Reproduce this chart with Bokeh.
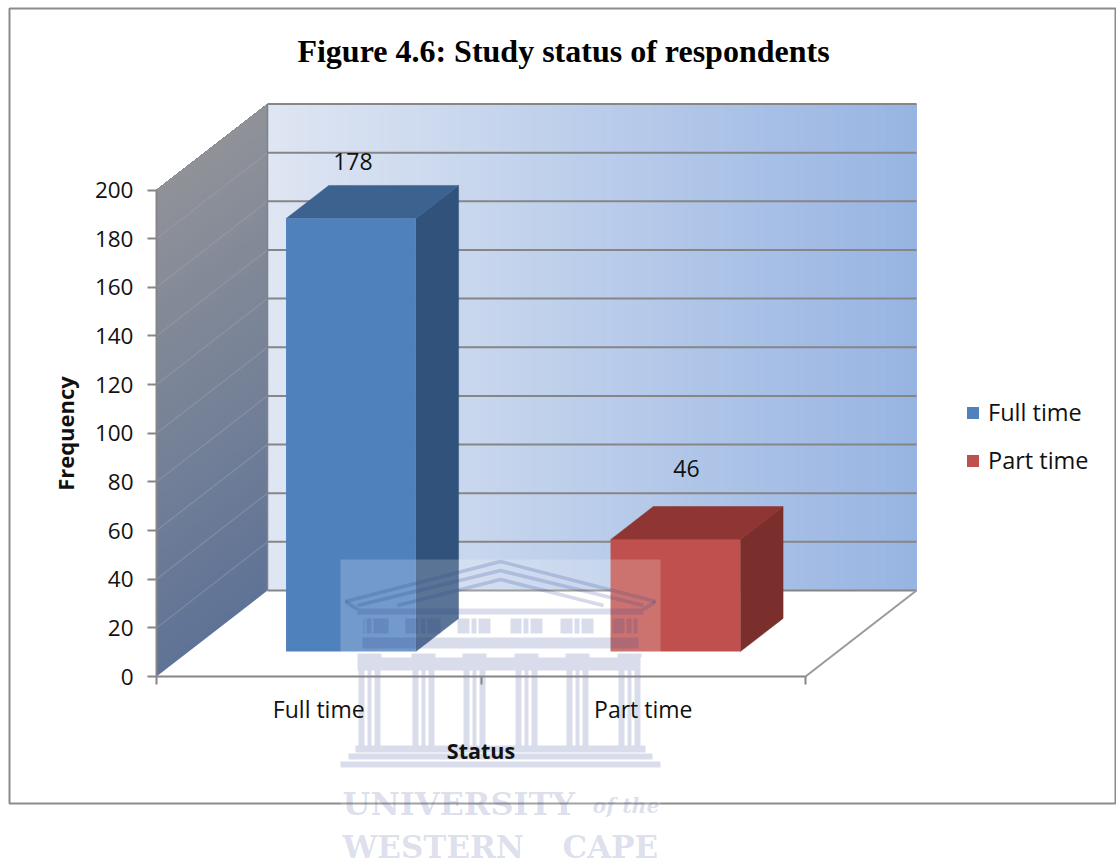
from bokeh.embed import file_html
from bokeh.resources import INLINE
from bokeh.plotting import figure
from bokeh.core.properties import value
from bokeh.models import FixedTicker, Legend, LegendItem, LinearAxis, Range1d

# Chart content
title_text = "Figure 4.6: Study status of respondents"
categories = ["Full time", "Part time"]
frequencies = [178, 46]
y_ticks = [0, 20, 40, 60, 80, 100, 120, 140, 160, 180, 200]
y_title = "Frequency"
x_title = "Status"

# Pseudo-3D styling
WIDTH, HEIGHT = 1116, 866
ORIGIN_X, ORIGIN_Y = 156, 676        # where the front axes meet, in page pixels
PX_PER_CAT, PX_PER_FREQ = 324.5, 2.4325
DEPTH_X = 111 / PX_PER_CAT           # shift of the back wall, in category units
DEPTH_Y = 86 / PX_PER_FREQ           # shift of the back wall, in frequency units
BAR_WIDTH = 0.4
BAR_Z0, BAR_Z1 = 0.29, 0.675
GRID = "#868686"
BAR_COLORS = {"front": ["#4f81bd", "#c0504d"], "side": ["#31527b", "#7a2f2c"], "top": ["#3c6390", "#8f3533"]}
LABEL_SHIFT = [(0.006, 23.4), (0.034, 29.2)]   # data label offset from the bar's front top edge
FONT = "Open Sans"
INK = "#111111"
MARK = "#2f3f8f"


def proj(x, y, z):
    """Project a (category, frequency, depth) point onto the picture plane."""
    return x + z * DEPTH_X, y + z * DEPTH_Y


def dx(px):
    return (px - ORIGIN_X) / PX_PER_CAT


def dy(py):
    return (ORIGIN_Y - py) / PX_PER_FREQ


def mix(a, b, t):
    ca = [int(a[i:i + 2], 16) for i in (1, 3, 5)]
    cb = [int(b[i:i + 2], 16) for i in (1, 3, 5)]
    return "#%02x%02x%02x" % tuple(round(u + (v - u) * t) for u, v in zip(ca, cb))


p = figure(width=WIDTH, height=HEIGHT, output_backend="svg", toolbar_location=None,
           x_range=Range1d(dx(0), dx(WIDTH)), y_range=Range1d(dy(HEIGHT), dy(0)),
           x_axis_location=None, y_axis_location=None, min_border=0)
p.grid.visible = False
p.outline_line_color = None
p.background_fill_color = "white"

# Chart frame
p.quad(left=[dx(9)], right=[dx(1115)], top=[dy(8)], bottom=[dy(803)],
       fill_color=None, line_color="#8b8b8b", line_width=2)

# Back wall: horizontal colour ramp, each strip painted over the rest of the wall
y_top = y_ticks[-1]
n_strips = 64
x0, y0 = proj(0, 0, 1)
x1 = proj(2, 0, 1)[0]
y1 = proj(0, y_top, 1)[1]
edges = [x0 + (x1 - x0) * i / n_strips for i in range(n_strips)]
strip_colors = [mix("#dfe6f3", "#97b4e2", (i + 0.5) / n_strips) for i in range(n_strips)]
p.quad(left=edges, right=x1, top=y1, bottom=y0, fill_color=strip_colors, line_color=None)

# Side wall: vertical colour ramp sheared along the depth direction, painted upward
n_bands = 60
xs, ys, band_colors = [], [], []
for i in range(n_bands):
    lo = y_top * i / n_bands
    a, b = proj(0, lo, 0), proj(0, lo, 1)
    c, d = proj(0, y_top, 1), proj(0, y_top, 0)
    xs.append([a[0], b[0], c[0], d[0]])
    ys.append([a[1], b[1], c[1], d[1]])
    band_colors.append(mix("#5f7396", "#909298", (i + 0.5) / n_bands))
p.patches(xs, ys, fill_color=band_colors, line_color=None)

# Gridlines on both walls, and the floor outline
for tick in y_ticks:
    bx, by = proj(0, tick, 1)
    ex = proj(2, tick, 1)[0]
    p.line([bx, ex], [by, by], line_color=GRID, line_width=2)
    if tick not in (0, y_top):
        fx, fy = proj(0, tick, 0)
        p.line([fx, bx], [fy, by], line_color="#a0a6b2", line_width=1.2, line_alpha=0.45)
fx, fy = proj(2, 0, 0)
bx, by = proj(2, 0, 1)
p.line([fx, bx], [fy, by], line_color="#9a9a9a", line_width=2)
p.line([x0, x0], [y0, y1], line_color="#7f8288", line_width=1.5)

# Bars: side and top faces, then the front face that carries the legend entry
legend_items = []
for i, (name, freq) in enumerate(zip(categories, frequencies)):
    left, right = i + 0.5 - BAR_WIDTH / 2, i + 0.5 + BAR_WIDTH / 2
    side = [proj(right, 0, BAR_Z0), proj(right, 0, BAR_Z1), proj(right, freq, BAR_Z1), proj(right, freq, BAR_Z0)]
    top = [proj(left, freq, BAR_Z0), proj(right, freq, BAR_Z0), proj(right, freq, BAR_Z1), proj(left, freq, BAR_Z1)]
    p.patch([q[0] for q in side], [q[1] for q in side], fill_color=BAR_COLORS["side"][i], line_color=BAR_COLORS["side"][i], line_width=0.5)
    p.patch([q[0] for q in top], [q[1] for q in top], fill_color=BAR_COLORS["top"][i], line_color=BAR_COLORS["top"][i], line_width=0.5)
    fl, fb = proj(left, 0, BAR_Z0)
    fr, ft = proj(right, freq, BAR_Z0)
    r = p.quad(left=[fl], right=[fr], top=[ft], bottom=[fb], fill_color=BAR_COLORS["front"][i], line_color=None)
    legend_items.append(LegendItem(label=name, renderers=[r]))
    lx, ly = proj(i + 0.5, freq, BAR_Z0)
    p.text([lx + LABEL_SHIFT[i][0]], [ly + LABEL_SHIFT[i][1]], text=[str(freq)], text_font=value(FONT),
           text_font_size="23px", text_color=INK, text_align="center", text_baseline="middle")

# Crest printed across the lower part of the sheet
p.quad(left=[dx(340)], right=[dx(660)], top=[dy(559)], bottom=[dy(850)],
       fill_color="white", fill_alpha=0.2, line_color=None)

crest_rects = [
    (357, 643, 608, 614),   # cornice
    (362, 638, 637, 648),   # lower frieze
    (357, 640, 657, 670),   # architrave
    (355, 645, 745, 752),   # steps
    (348, 652, 753, 759),
    (340, 660, 761, 767),
]
column_centres = [369, 423, 474, 526, 577, 629]
for c in column_centres:
    crest_rects.append((c - 12, c + 12, 653, 657))
    for a, b in ((-11, -5), (-2, 2), (5, 11)):
        crest_rects.append((c + a, c + b, 670, 745))
# Frieze with its windows and triglyph slits left open
gaps = [(388, 405), (440, 457), (490, 510), (542, 560), (593, 612)]
for c in column_centres:
    gaps += [(c - 5, c - 3), (c + 2, c + 4)]
cursor = 363
for a, b in sorted(gaps):
    crest_rects.append((cursor, a, 618, 633))
    cursor = b
crest_rects.append((cursor, 637, 618, 633))
p.quad(left=[dx(r[0]) for r in crest_rects], right=[dx(r[1]) for r in crest_rects],
       top=[dy(r[2]) for r in crest_rects], bottom=[dy(r[3]) for r in crest_rects],
       fill_color=MARK, fill_alpha=0.18, line_color=None)

pediment = [
    [(345, 601), (500, 561), (655, 601)],
    [(357, 605), (500, 570), (643, 605)],
    [(397, 605), (500, 579), (603, 605)],
    [(345, 601), (357, 609)],
    [(655, 601), (643, 609)],
]
p.multi_line([[dx(q[0]) for q in line] for line in pediment], [[dy(q[1]) for q in line] for line in pediment],
             line_color=MARK, line_alpha=0.2, line_width=3.5)

wordmark = [("UNIVERSITY", 342, 803, "bold", 32), ("of the", 592, 805, "bold italic", 20.5),
            ("WESTERN", 342, 846, "bold", 31), ("CAPE", 562, 846, "bold", 31)]
for word, wx, wy, style, size in wordmark:
    p.text([dx(wx)], [dy(wy)], text=[word], text_font=value("DejaVu Serif"), text_font_size=f"{size}px",
           text_font_style=style, text_color=MARK, text_alpha=0.18, text_align="left",
           text_baseline="middle")

# Axes pinned to the front corner of the plot box
y_axis = LinearAxis(ticker=FixedTicker(ticks=y_ticks), fixed_location=0, bounds=(y_ticks[0], y_ticks[-1]),
                    axis_label=y_title,
                    axis_line_color=GRID, axis_line_width=2, major_tick_line_color=GRID, major_tick_line_width=2,
                    major_tick_in=0, major_tick_out=9, minor_tick_line_color=None,
                    major_label_text_font=FONT, major_label_text_font_size="22.5px", major_label_text_color=INK,
                    major_label_standoff=14, axis_label_text_font=FONT, axis_label_text_font_size="22px",
                    axis_label_text_font_style="bold", axis_label_text_color=INK, axis_label_standoff=12)
p.add_layout(y_axis, "left")

x_positions = [i + 0.5 for i in range(len(categories))]
x_axis = LinearAxis(ticker=FixedTicker(ticks=x_positions, minor_ticks=list(range(len(categories) + 1))),
                    fixed_location=0, bounds=(0, len(categories)), axis_label=x_title,
                    major_label_overrides={pos: name for pos, name in zip(x_positions, categories)},
                    axis_line_color=GRID, axis_line_width=2, major_tick_line_color=None,
                    minor_tick_line_color=GRID, minor_tick_line_width=2, minor_tick_in=0, minor_tick_out=8,
                    major_label_text_font=FONT, major_label_text_font_size="23px", major_label_text_color=INK,
                    major_label_standoff=8, axis_label_text_font=FONT, axis_label_text_font_size="21.5px",
                    axis_label_text_font_style="bold", axis_label_text_color=INK, axis_label_standoff=8)
p.add_layout(x_axis, "below")

# Title
p.text([dx(563)], [dy(50)], text=[title_text], text_font=value("Liberation Serif"), text_font_size="32px",
       text_font_style="bold", text_color="#000000", text_align="center", text_baseline="middle")

# Legend
legend = Legend(items=legend_items, location=(965, 866 - 476), orientation="vertical",
                background_fill_alpha=0, border_line_color=None, padding=0, margin=0,
                glyph_width=15, glyph_height=15, label_standoff=8, spacing=16, label_height=30,
                label_text_font=FONT, label_text_font_size="23.5px", label_text_color=INK)
p.add_layout(legend)

open("out.html", "w").write(file_html(p, INLINE))
